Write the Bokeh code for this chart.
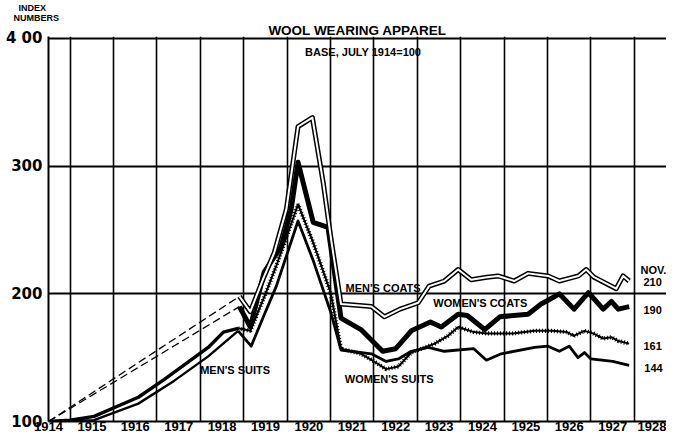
from bokeh.plotting import figure
from bokeh.models import Range1d, FixedTicker, Label, Title
from bokeh.embed import file_html
from bokeh.resources import INLINE

# ---------------- data ----------------
year_labels = list(range(1914, 1929))          # label at mid-year
grid_years = list(range(1915, 1929))           # grid at January
y_ticks = [100, 200, 300, 400]

# estimated (dashed) parts, July 1914 - late 1918
mens_coats_est_x = [1914.5, 1918.9]
mens_coats_est_y = [100, 198]
womens_coats_est_x = [1914.5, 1918.9]
womens_coats_est_y = [100, 190]

mens_coats_x = [1918.9, 1919.15, 1919.45, 1919.7, 1919.98, 1920.25, 1920.58, 1920.83, 1921.01,
                1921.24, 1921.6, 1921.94, 1922.24, 1922.6, 1923.02, 1923.27, 1923.62, 1923.94,
                1924.24, 1924.6, 1924.86, 1925.23, 1925.55, 1926.01, 1926.27, 1926.71, 1926.89,
                1927.07, 1927.58, 1927.74, 1927.88]
mens_coats_y = [198, 186, 212, 232, 266, 331, 338, 287, 243,
                192, 191, 190, 182, 188, 193, 206, 210, 219,
                211, 213, 214, 210, 216, 214, 210, 214, 219,
                213, 204, 214, 210]

womens_coats_x = [1918.9, 1919.15, 1919.47, 1919.86, 1920.09, 1920.25, 1920.6, 1920.94, 1921.0,
                  1921.24, 1921.7, 1922.2, 1922.5, 1922.86, 1923.3, 1923.55, 1923.94, 1924.15,
                  1924.55, 1924.9, 1925.55, 1925.85, 1926.01, 1926.27, 1926.61, 1926.94,
                  1927.28, 1927.47, 1927.63, 1927.88]
womens_coats_y = [190, 174, 217, 237, 266, 303, 256, 252, 238,
                  181, 172, 155, 157, 171, 178, 174, 184, 183,
                  172, 182, 184, 192, 195, 200, 188, 201,
                  188, 194, 188, 190]

womens_suits_early_x = [1914.5, 1915.0, 1915.55, 1916.57, 1917.17, 1918.18, 1918.53, 1918.87]
womens_suits_early_y = [100, 101, 104, 119, 133, 158, 170, 173]
womens_suits_x = [1918.87, 1919.15, 1919.5, 1919.75, 1920.25, 1920.6, 1921.0, 1921.24, 1921.7,
                  1922.0, 1922.28, 1922.56, 1922.86, 1923.4, 1923.7, 1923.94, 1924.3, 1924.6,
                  1925.2, 1925.7, 1926.1, 1926.45, 1926.6, 1926.85, 1927.05, 1927.28, 1927.47,
                  1927.63, 1927.88]
womens_suits_y = [173, 171, 200, 222, 270, 240, 201, 157, 153,
                  147, 141, 143, 154, 161, 167, 174, 170, 169,
                  169, 171, 171, 170, 167, 171, 169, 165, 166,
                  163, 161]

mens_suits_early_x = [1914.5, 1915.55, 1916.57, 1917.4, 1918.18, 1918.87]
mens_suits_early_y = [100, 101, 114, 132, 151, 171]
mens_suits_x = [1918.87, 1919.17, 1919.5, 1919.75, 1920.25, 1920.6, 1921.0, 1921.24, 1921.94,
                1922.28, 1922.56, 1922.86, 1923.25, 1923.62, 1924.3, 1924.59, 1924.93, 1925.7,
                1926.01, 1926.27, 1926.5, 1926.7, 1926.85, 1927.0, 1927.5, 1927.88]
mens_suits_y = [171, 159, 186, 206, 257, 226, 186, 156, 153,
                147, 149, 155, 158, 155, 157, 148, 153, 158,
                159, 155, 159, 150, 154, 149, 147, 144]

# ---------------- figure ----------------
FONT = "Liberation Sans"

p = figure(width=666, height=436, output_backend="svg", toolbar_location=None,
           x_range=Range1d(1914.5, 1928.74), y_range=Range1d(100, 401.5),
           min_border_left=48, min_border_right=0, min_border_top=36, min_border_bottom=15,
           background_fill_color="white", border_fill_color="white", title=None)
p.outline_line_color = None

# stacked titles: first added is closest to the plot
p.add_layout(Title(text="WOOL WEARING APPAREL", align="center", text_font=FONT,
                   text_font_style="bold", text_font_size="13.5px", standoff=-2,
                   text_color="black"), "above")
p.add_layout(Title(text="NUMBERS", align="left", offset=-35, text_font=FONT,
                   text_font_style="bold", text_font_size="9px", standoff=-2,
                   text_color="black"), "above")
p.add_layout(Title(text="INDEX", align="left", offset=-30, text_font=FONT,
                   text_font_style="bold", text_font_size="9px", standoff=-2,
                   text_color="black"), "above")

# axes
p.xaxis.ticker = FixedTicker(ticks=[y + 0.5 for y in year_labels])
p.xaxis.major_label_overrides = {y + 0.5: str(y) for y in year_labels}
p.yaxis.ticker = FixedTicker(ticks=y_ticks)
p.yaxis.major_label_overrides = {400: "4 00"}
for ax in (p.xaxis, p.yaxis):
    ax.major_tick_out = 0
    ax.major_tick_in = 0
    ax.minor_tick_out = 0
    ax.minor_tick_in = 0
    ax.axis_line_color = "black"
    ax.axis_line_width = 2
    ax.major_label_text_font_style = "bold"
    ax.major_label_text_color = "black"
p.xaxis.major_label_text_font = FONT
p.xaxis.major_label_text_font_size = "13px"
p.xaxis.major_label_standoff = 0
p.yaxis.major_label_text_font = "DejaVu Sans"
p.yaxis.major_label_text_font_size = "15px"
p.yaxis.major_label_standoff = 6

# grid
p.xgrid.ticker = FixedTicker(ticks=grid_years)
p.ygrid.ticker = FixedTicker(ticks=[200, 300, 400])
p.xgrid.grid_line_color = "black"
p.ygrid.grid_line_color = "black"
p.xgrid.grid_line_width = 1.6
p.ygrid.grid_line_width = 1.8

# ---------------- series ----------------
p.line(mens_coats_est_x, mens_coats_est_y, line_color="black", line_width=1.3, line_dash="8 4")
p.line(womens_coats_est_x, womens_coats_est_y, line_color="black", line_width=1.3, line_dash="8 4")

p.line(mens_suits_early_x, mens_suits_early_y, line_color="black", line_width=2.4)
p.line(mens_suits_x, mens_suits_y, line_color="black", line_width=2.8, line_join="round")

p.line(womens_suits_early_x, womens_suits_early_y, line_color="black", line_width=3.4)
p.line(womens_suits_x, womens_suits_y, line_color="black", line_width=2.0, line_join="round")
p.line(womens_suits_x, womens_suits_y, line_color="black", line_width=4.2, line_dash="1 2")

p.line(womens_coats_x, womens_coats_y, line_color="black", line_width=5, line_join="round")

p.line(mens_coats_x, mens_coats_y, line_color="black", line_width=5, line_join="round")
p.line(mens_coats_x, mens_coats_y, line_color="white", line_width=2, line_join="round")

# ---------------- texts ----------------
def lab(x, y, txt, size="11px"):
    p.add_layout(Label(x=x, y=y, text=txt, text_font=FONT, text_font_style="bold",
                       text_font_size=size, text_align="center", text_baseline="middle",
                       text_color="black"))

lab(1921.75, 389, "BASE, JULY 1914=100")
lab(1922.21, 204.5, "MEN'S COATS")
lab(1924.45, 192.5, "WOMEN'S COATS")
lab(1918.8, 140, "MEN'S SUITS")
lab(1922.35, 133.5, "WOMEN'S SUITS")
lab(1928.44, 218.5, "NOV.")
lab(1928.42, 209.5, str(mens_coats_y[-1]))
lab(1928.42, 187.5, str(womens_coats_y[-1]))
lab(1928.42, 159.5, str(womens_suits_y[-1]))
lab(1928.44, 142, str(mens_suits_y[-1]))

open("out.html", "w").write(file_html(p, INLINE))
